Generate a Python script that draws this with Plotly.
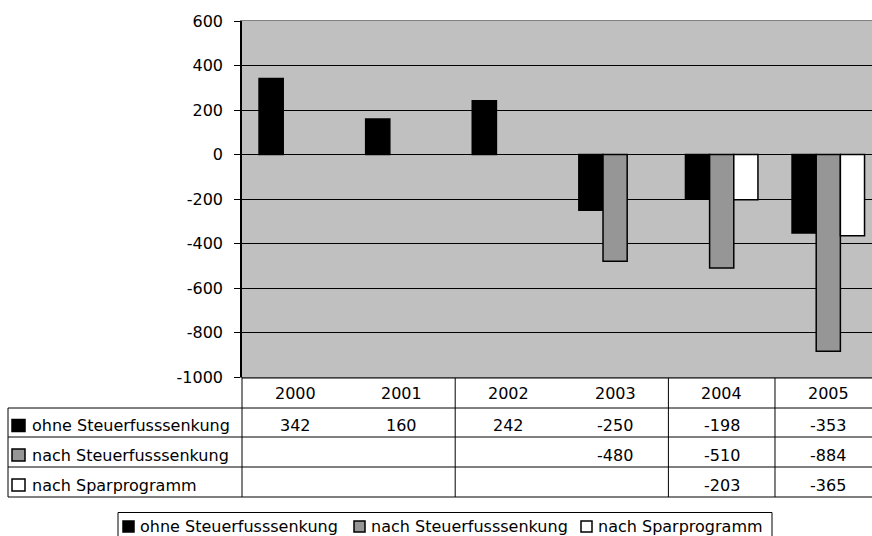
import plotly.graph_objects as go

# Jahresergebnisse je Szenario
years = ["2000", "2001", "2002", "2003", "2004", "2005"]
ohne_senkung = [342, 160, 242, -250, -198, -353]
nach_senkung = [None, None, None, -480, -510, -884]
nach_spar = [None, None, None, None, -203, -365]

series_names = ["ohne Steuerfusssenkung", "nach Steuerfusssenkung", "nach Sparprogramm"]
series_values = [ohne_senkung, nach_senkung, nach_spar]
series_colors = ["#000000", "#969696", "#ffffff"]

y_ticks = [-1000, -800, -600, -400, -200, 0, 200, 400, 600]

FONT = "DejaVu Sans"
W, H = 872, 536
PL, PT, PW, PH = 242, 21, 630, 356  # plot area in pixels


def px_x(px):
    return (px - PL) / PW


def px_y(py):
    return (PT + PH - py) / PH


fig = go.Figure()
for name, vals, col in zip(series_names, series_values, series_colors):
    fig.add_trace(go.Bar(
        x=years, y=vals, name=name,
        marker=dict(color=col, line=dict(color="#000000", width=1.5)),
        showlegend=False,
    ))

shapes = []
annotations = []

# data table: header row + one row per series
header_top, row_tops = 378, [408, 437, 467, 497]
line = dict(color="#000000", width=1)
shapes.append(dict(type="line", xref="paper", yref="paper",
                   x0=0, x1=1, y0=px_y(header_top), y1=px_y(header_top), line=line))
for rt in row_tops:
    shapes.append(dict(type="line", xref="paper", yref="paper",
                       x0=px_x(8), x1=1, y0=px_y(rt), y1=px_y(rt), line=line))
shapes.append(dict(type="line", xref="paper", yref="paper",
                   x0=px_x(8), x1=px_x(8), y0=px_y(row_tops[0]), y1=px_y(row_tops[-1]), line=line))
shapes.append(dict(type="line", xref="paper", yref="paper",
                   x0=0, x1=0, y0=px_y(PT + PH), y1=px_y(row_tops[-1]), line=line))
for b in [1.5, 3.5, 4.5]:
    shapes.append(dict(type="line", xref="x", yref="paper",
                       x0=b, x1=b, y0=px_y(header_top), y1=px_y(row_tops[-1]), line=line))

tfont = dict(family=FONT, size=16, color="#000000")

# category labels
for i, yr in enumerate(years):
    annotations.append(dict(x=i, y=px_y(393.5), xref="x", yref="paper", text=yr,
                            showarrow=False, xanchor="center", yanchor="middle", font=tfont))

# rows: legend key, series name, values
for r, (name, vals, col) in enumerate(zip(series_names, series_values, series_colors)):
    top, bot = row_tops[r], row_tops[r + 1]
    cy = (top + bot) / 2 + 3
    shapes.append(dict(type="rect", xref="paper", yref="paper",
                       x0=px_x(12), x1=px_x(25), y0=px_y(cy - 6), y1=px_y(cy + 6),
                       fillcolor=col, line=dict(color="#000000", width=1.5)))
    annotations.append(dict(x=px_x(30), y=px_y(cy), xref="paper", yref="paper", text=name,
                            showarrow=False, xanchor="left", yanchor="middle", font=tfont))
    for i, v in enumerate(vals):
        if v is None:
            continue
        annotations.append(dict(x=i, y=px_y(cy), xref="x", yref="paper", text=str(v),
                                showarrow=False, xanchor="center", yanchor="middle", font=tfont))

# legend box below the table
shapes.append(dict(type="rect", xref="paper", yref="paper",
                   x0=px_x(118), x1=px_x(772), y0=px_y(512.5), y1=px_y(545),
                   fillcolor="rgba(0,0,0,0)", line=dict(color="#000000", width=1)))
legend_x = [123, 354, 581]
for lx, name, col in zip(legend_x, series_names, series_colors):
    shapes.append(dict(type="rect", xref="paper", yref="paper",
                       x0=px_x(lx), x1=px_x(lx + 11), y0=px_y(521), y1=px_y(532),
                       fillcolor=col, line=dict(color="#000000", width=1.5)))
    annotations.append(dict(x=px_x(lx + 15), y=px_y(526.5), xref="paper", yref="paper", text=name,
                            showarrow=False, xanchor="left", yanchor="middle", font=tfont))

fig.update_layout(
    width=W, height=H,
    margin=dict(l=PL, r=W - PL - PW, t=PT, b=H - PT - PH, autoexpand=False),
    paper_bgcolor="#ffffff",
    plot_bgcolor="#c0c0c0",
    barmode="group",
    bargap=0.32,
    bargroupgap=0,
    shapes=shapes,
    annotations=annotations,
    xaxis=dict(
        type="category", categoryorder="array", categoryarray=years,
        range=[-0.5, 5.41], showticklabels=False, ticks="",
        showgrid=False, showline=True, linecolor="#808080", linewidth=1, mirror=True,
        zeroline=False, fixedrange=True,
    ),
    yaxis=dict(
        range=[-1000, 600], tickvals=y_ticks, ticktext=[str(v) for v in y_ticks],
        ticks="outside", ticklen=6, tickcolor="#000000", tickwidth=1,
        tickfont=dict(family=FONT, size=16, color="#000000"),
        showgrid=True, gridcolor="#000000", gridwidth=1,
        zeroline=True, zerolinecolor="#000000", zerolinewidth=1,
        showline=True, linecolor="#000000", linewidth=1.5,
        ticklabelstandoff=8, fixedrange=True,
    ),
)

fig.write_html("out.html", config={"displayModeBar": False})
